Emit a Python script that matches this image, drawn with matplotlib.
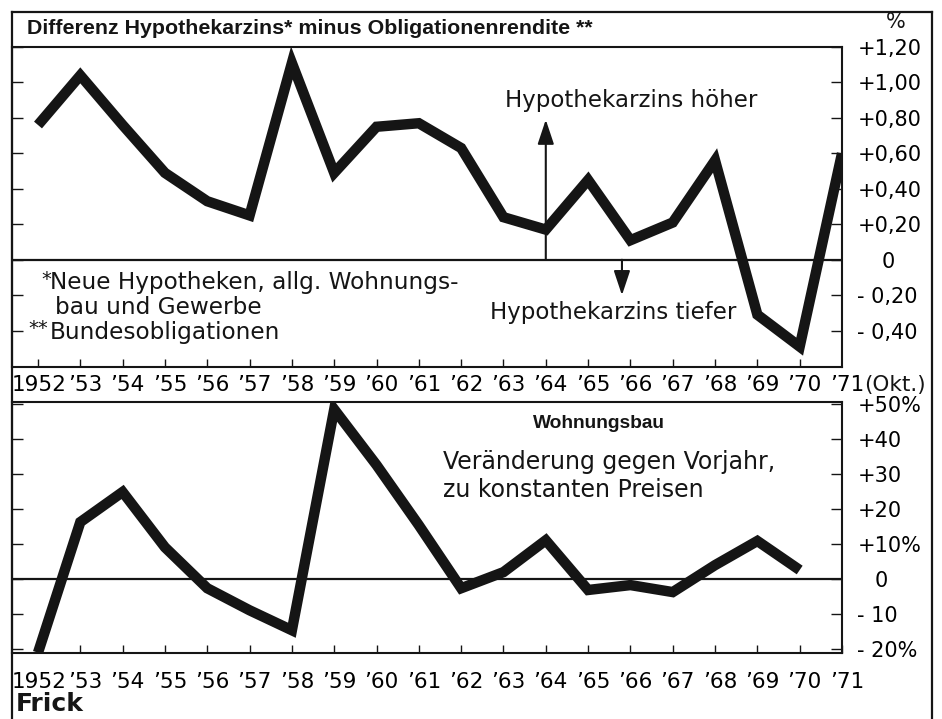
import matplotlib
matplotlib.use("Agg")
import matplotlib.pyplot as plt
from matplotlib.transforms import ScaledTranslation
from matplotlib.lines import Line2D

# ---------------- data ----------------
years_top = list(range(1952, 1972))
diff_values = [0.76, 1.04, 0.76, 0.49, 0.33, 0.25, 1.11, 0.49, 0.75, 0.77,
               0.63, 0.24, 0.17, 0.45, 0.11, 0.21, 0.56, -0.31, -0.49, 0.60]

years_bottom = list(range(1952, 1971))
bau_values = [-21.0, 16.3, 24.9, 9.1, -2.6, -8.9, -14.6, 48.5, 32.6, 15.4,
              -2.6, 2.0, 11.1, -3.1, -1.7, -3.7, 4.0, 10.9, 2.6]

year_labels = ["1952", "’53", "’54", "’55", "’56", "’57", "’58", "’59", "’60", "’61",
               "’62", "’63", "’64", "’65", "’66", "’67", "’68", "’69", "’70", "’71"]

top_ticks = [1.2, 1.0, 0.8, 0.6, 0.4, 0.2, 0.0, -0.2, -0.4]
top_tick_labels = ["+1,20", "+1,00", "+0,80", "+0,60", "+0,40", "+0,20", "0", "- 0,20", "- 0,40"]

bottom_ticks = [50, 40, 30, 20, 10, 0, -10, -20]
bottom_tick_labels = ["+50%", "+40", "+30", "+20", "+10%", "0", "- 10", "- 20%"]

title_text = "Differenz Hypothekarzins* minus Obligationenrendite **"

# ---------------- fonts ----------------
plt.rcParams['font.family'] = ['DejaVu Sans']
bold_kw = dict(family=['Liberation Sans', 'DejaVu Sans'], fontweight='bold')

W, H = 942, 719
fig = plt.figure(figsize=(W / 100, H / 100), dpi=100)
fig.patch.set_facecolor('white')

def fx(px):
    return px / W

def fy(py):
    return 1 - py / H

ink = '#151515'

# outer frame
for (x0, y0, x1, y1) in [(12, 12, 12, 719), (12, 12, 932, 12), (932, 12, 932, 719)]:
    fig.add_artist(Line2D([fx(x0), fx(x1)], [fy(y0), fy(y1)], color=ink, lw=1.6,
                          transform=fig.transFigure))

# axes positions
L, R = 12, 842
ax1 = fig.add_axes([fx(L), fy(367), fx(R) - fx(L), fy(47) - fy(367)])
ax2 = fig.add_axes([fx(L), fy(653), fx(R) - fx(L), fy(402) - fy(653)])

x_left = 1952 - (38 - L) / ((R - 38) / 19)

for ax in (ax1, ax2):
    ax.set_facecolor('none')
    for s in ax.spines.values():
        s.set_color(ink)
        s.set_linewidth(1.5)
    ax.set_xlim(x_left, 1971)
    ax.tick_params(axis='x', direction='in', length=6, width=1.0, color=ink,
                   bottom=True, top=False)
    ax.tick_params(axis='y', direction='in', length=8, width=1.0, color=ink,
                   left=True, right=True, labelleft=False, labelright=True,
                   labelsize=15, pad=11)

# ---------------- top panel ----------------
ax1.set_ylim(-0.605, 1.2)
ax1.axhline(0, color=ink, lw=1.6)
ax1.plot(years_top, diff_values, color=ink, lw=7.5, solid_joinstyle='miter',
         solid_capstyle='butt', clip_on=True)
ax1.set_yticks(top_ticks)
ax1.set_yticklabels(top_tick_labels)
ax1.set_xticks(years_top[:-1])
ax1.tick_params(axis='x', labelbottom=False)

# year labels between the panels (belonging to the top panel)
ax1b = ax1.secondary_xaxis('bottom')
ax1b.set_xticks(years_top)
ax1b.set_xticklabels(year_labels)
ax1b.tick_params(axis='x', length=0, pad=6, labelsize=15.5)
ax1b.spines['bottom'].set_visible(False)

# arrows
arrow_style = '-|>,head_length=1.5,head_width=0.5'
ax1.annotate('', xy=(1964, 0.79), xytext=(1964, 0.0),
             arrowprops=dict(arrowstyle=arrow_style, color=ink, lw=1.5,
                             shrinkA=0, shrinkB=0))
ax1.annotate('', xy=(1965.8, -0.20), xytext=(1965.8, 0.0),
             arrowprops=dict(arrowstyle=arrow_style, color=ink, lw=1.5,
                             shrinkA=0, shrinkB=0))

fig.text(fx(505), fy(100), "Hypothekarzins höher", fontsize=16.5, ha='left', va='center', color=ink)
fig.text(fx(490), fy(313), "Hypothekarzins tiefer", fontsize=16.5, ha='left', va='center', color=ink)

fig.text(fx(41), fy(280), "*", fontsize=14, ha='left', va='center', color=ink)
fig.text(fx(50), fy(283), "Neue Hypotheken, allg. Wohnungs-", fontsize=16.7, ha='left', va='center', color=ink)
fig.text(fx(55), fy(308), "bau und Gewerbe", fontsize=16.7, ha='left', va='center', color=ink)
fig.text(fx(28), fy(329), "**", fontsize=14, ha='left', va='center', color=ink)
fig.text(fx(50), fy(333), "Bundesobligationen", fontsize=16.7, ha='left', va='center', color=ink)

fig.text(fx(27), fy(29), title_text, fontsize=15.4, ha='left', va='center',
         color=ink, **bold_kw)
fig.text(fx(896), fy(22), "%", fontsize=15, ha='center', va='center', color=ink)
fig.text(fx(864), fy(385), "(Okt.)", fontsize=15.5, ha='left', va='center', color=ink)

# ---------------- bottom panel ----------------
ax2.set_ylim(-21.1, 50.6)
ax2.axhline(0, color=ink, lw=1.6)
ax2.plot(years_bottom, bau_values, color=ink, lw=7.5, solid_joinstyle='miter',
         solid_capstyle='butt', clip_on=True)
ax2.set_yticks(bottom_ticks)
ax2.set_yticklabels(bottom_tick_labels)
ax2.set_xticks(years_top)
ax2.set_xticklabels(year_labels)
ax2.tick_params(axis='x', pad=14, labelsize=15.5)

fig.text(fx(599), fy(423), "Wohnungsbau", fontsize=13.8, ha='center', va='center',
         color=ink, **bold_kw)
fig.text(fx(443), fy(462), "Veränderung gegen Vorjahr,", fontsize=17, ha='left', va='center', color=ink)
fig.text(fx(443), fy(490), "zu konstanten Preisen", fontsize=17, ha='left', va='center', color=ink)
fig.text(fx(16), fy(704), "Frick", fontsize=18, fontweight='bold', ha='left', va='center', color=ink)

# shift year labels slightly right (first one a little left), centre the "0" labels
for labs in (ax2.get_xticklabels(), ax1b.get_xticklabels()):
    for i, lab in enumerate(labs):
        dx = 1.5 if i == 0 else 5
        lab.set_transform(lab.get_transform() + ScaledTranslation(dx / 100, 0, fig.dpi_scale_trans))
for ax, dx in ((ax1, 24), (ax2, 17)):
    for lab in ax.get_yticklabels():
        if lab.get_text() == "0":
            lab.set_transform(lab.get_transform() + ScaledTranslation(dx / 100, 0, fig.dpi_scale_trans))

fig.savefig("out.png", dpi=100, facecolor='white')
